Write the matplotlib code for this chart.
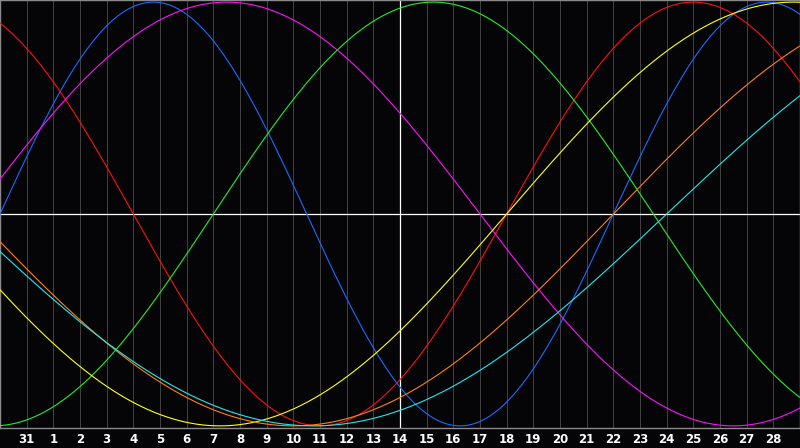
import numpy as np
import matplotlib
matplotlib.use("Agg")
import matplotlib.pyplot as plt

# Biorhythm cycles: name, period in days, colour
cycle_names = ["Physical", "Emotional", "Intellectual", "Intuitive", "Aesthetic", "Awareness", "Spiritual"]
cycle_periods = [23, 28, 33, 38, 43, 48, 53]
cycle_colors = ["#1a6aff", "#ff1010", "#22ee22", "#ff10ff", "#ffff10", "#ff8010", "#20e8e8"]

# days lived at the left edge of the chart
days_alive_start = 13225
# day labels at each grid column (left edge is day 30 of previous month)
day_labels = [31] + list(range(1, 29))
today_index = 15  # day 14

n_days = 30

fig = plt.figure(figsize=(8.0, 4.48), dpi=100, facecolor="#050508")
ax = fig.add_axes([0, 20 / 448, 1, 428 / 448])
ax.set_facecolor("#050508")
ax.set_xlim(0, n_days)
ax.set_ylim(-1.01, 1.01)

# grid lines
for i in range(1, n_days):
    ax.axvline(i, color="#404040", lw=0.72, zorder=1)

ax.axhline(0, color="white", lw=0.9, zorder=2)
ax.axvline(today_index, color="white", lw=0.9, zorder=2)

t = np.linspace(0, n_days, 1201)
for name, p, c in zip(cycle_names, cycle_periods, cycle_colors):
    ax.plot(t, np.sin(2 * np.pi * (days_alive_start + t) / p), color=c, lw=0.8,
            zorder=3, label=name)

for s in ax.spines.values():
    s.set_color("#8a8a8a")
    s.set_linewidth(1.0)

ax.set_xticks([])
ax.set_yticks([])

for k, lab in enumerate(day_labels, start=1):
    fig.text(k / n_days, 9 / 448, str(lab), color="white", fontsize=8.5, fontweight="bold",
             ha="center", va="center", family="DejaVu Sans")

fig.savefig("out.png", dpi=100, facecolor=fig.get_facecolor())
